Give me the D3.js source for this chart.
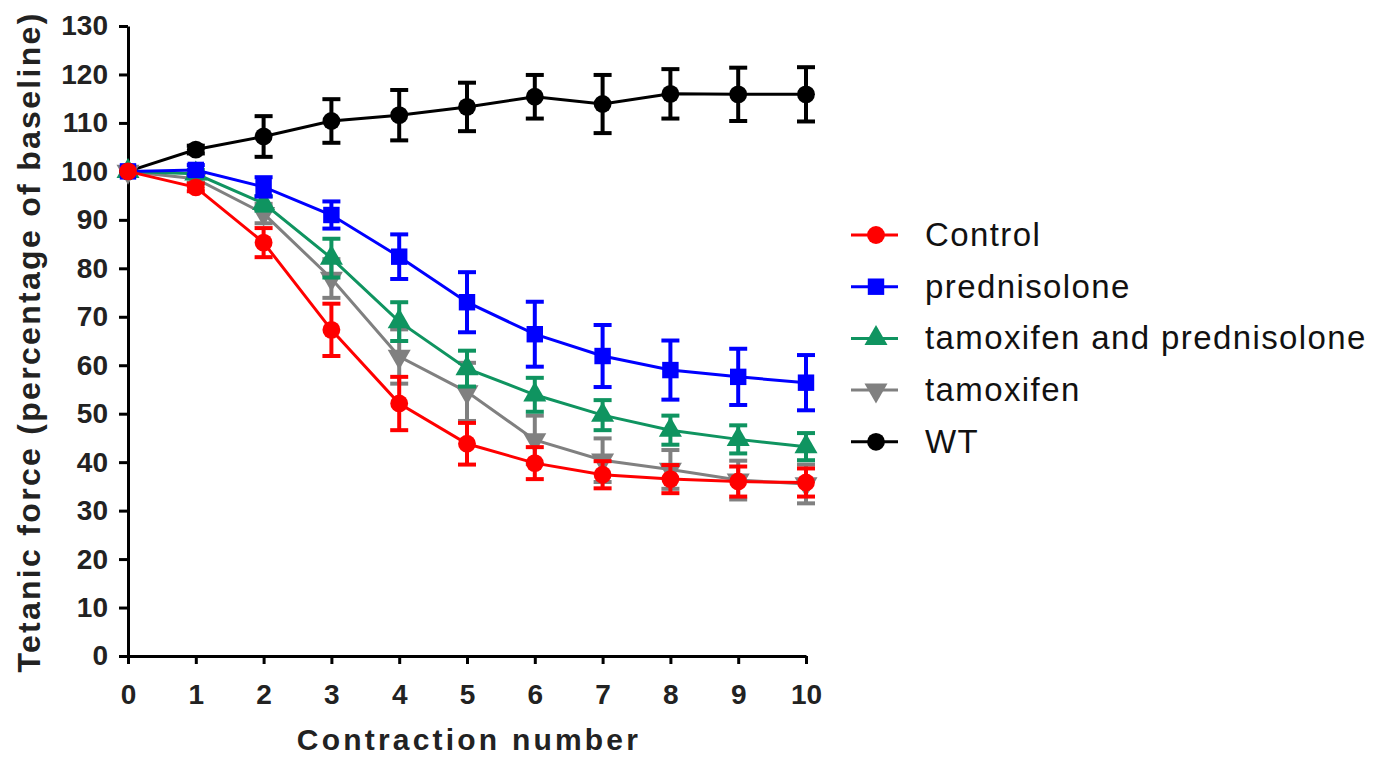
<!DOCTYPE html>
<html>
<head>
<meta charset="utf-8">
<script src="https://cdn.jsdelivr.net/npm/d3@7"></script>
<style>
  body { margin: 0; background: #fff; }
  svg { display: block; }
</style>
</head>
<body>
<svg id="chart" width="1377" height="758"></svg>
<script>
// contraction numbers 0..10
var contractions = [0, 1, 2, 3, 4, 5, 6, 7, 8, 9, 10];

// mean values (percentage of baseline) and error (SEM)
var controlMean = [100, 96.7, 85.3, 67.3, 52.1, 43.8, 39.8, 37.4, 36.5, 36.0, 35.8];
var controlErr  = [0, 0.8, 3.0, 5.4, 5.5, 4.3, 3.3, 2.8, 2.9, 3.1, 2.9];

var prednisoloneMean = [100, 100.3, 96.8, 91.0, 82.4, 73.0, 66.4, 61.9, 59.0, 57.6, 56.4];
var prednisoloneErr  = [0, 1.0, 2.0, 2.8, 4.6, 6.2, 6.7, 6.4, 6.1, 5.8, 5.7];

var tamPredMean = [100, 99.5, 93.4, 82.1, 69.0, 59.3, 53.9, 49.7, 46.6, 44.7, 43.2];
var tamPredErr  = [0, 0.8, 1.5, 4.0, 4.0, 3.7, 3.5, 3.1, 3.0, 2.9, 2.8];

var tamoxifenMean = [100, 98.5, 91.3, 77.9, 61.8, 54.5, 44.6, 40.4, 38.5, 36.3, 35.5];
var tamoxifenErr  = [0, 0.8, 2.0, 4.0, 5.6, 6.0, 5.0, 4.5, 4.0, 4.0, 4.0];

var wtMean = [100, 104.5, 107.2, 110.4, 111.6, 113.3, 115.4, 113.9, 116.0, 115.9, 115.9];
var wtErr  = [0, 0.8, 4.2, 4.5, 5.2, 5.0, 4.5, 6.0, 5.1, 5.5, 5.6];

var seriesNames = ["Control", "prednisolone", "tamoxifen and prednisolone", "tamoxifen", "WT"];
var seriesColors = ["#ff0000", "#0000ff", "#0f9460", "#808080", "#000000"];
var seriesSymbols = ["circle", "square", "triangleUp", "triangleDown", "circle"];

var yTicks = d3.range(0, 131, 10);

var allMeans = [controlMean, prednisoloneMean, tamPredMean, tamoxifenMean, wtMean];
var allErrs = [controlErr, prednisoloneErr, tamPredErr, tamoxifenErr, wtErr];

var series = seriesNames.map(function(name, i) {
  return {
    name: name, color: seriesColors[i], symbol: seriesSymbols[i],
    values: contractions.map(function(c, j) { return {x: c, y: allMeans[i][j], e: allErrs[i][j]}; })
  };
});

var margin = {top: 26, left: 128},
    width = 678, height = 630;

var svg = d3.select("#chart");
var g = svg.append("g").attr("transform", "translate(" + margin.left + "," + margin.top + ")");

var xScale = d3.scaleLinear().domain([0, 10]).range([0, width]);
var yScale = d3.scaleLinear().domain([0, 130]).range([height, 0]);

var font = "'Liberation Sans', Arial, sans-serif";

// y axis
var yAxis = g.append("g")
  .call(d3.axisLeft(yScale).tickValues(yTicks).tickSize(9).tickSizeOuter(0).tickPadding(11));
// x axis
var xAxis = g.append("g")
  .attr("transform", "translate(0," + height + ")")
  .call(d3.axisBottom(xScale).tickValues(contractions).tickSize(8).tickSizeOuter(0).tickPadding(20));

[yAxis, xAxis].forEach(function(ax) {
  ax.select(".domain").attr("stroke", "#000").attr("stroke-width", 3);
  ax.selectAll(".tick line").attr("stroke", "#000").attr("stroke-width", 3);
  ax.selectAll(".tick text")
    .attr("fill", "#222")
    .style("font-family", font)
    .style("font-weight", "bold")
    .style("font-size", "28px");
});

// symbol generator
function symbolPath(type, size) {
  var t = {circle: d3.symbolCircle, square: d3.symbolSquare,
           triangleUp: d3.symbolTriangle, triangleDown: d3.symbolTriangle}[type];
  return d3.symbol().type(t).size(size)();
}
var symbolSizes = {circle: 250, square: 270, triangleUp: 230, triangleDown: 230};

var line = d3.line()
  .x(function(d) { return xScale(d.x); })
  .y(function(d) { return yScale(d.y); });

// draw order: WT first, control on top
var drawOrder = series.slice().reverse();

drawOrder.forEach(function(s) {
  var sg = g.append("g");
  sg.append("path")
    .datum(s.values)
    .attr("d", line)
    .attr("fill", "none")
    .attr("stroke", s.color)
    .attr("stroke-width", 3);

  var bars = sg.selectAll(".err").data(s.values.filter(function(d) { return d.e > 0; }))
    .enter().append("g");
  bars.append("line")
    .attr("x1", function(d) { return xScale(d.x); })
    .attr("x2", function(d) { return xScale(d.x); })
    .attr("y1", function(d) { return yScale(d.y + d.e); })
    .attr("y2", function(d) { return yScale(d.y - d.e); })
    .attr("stroke", s.color).attr("stroke-width", 4);
  [1, -1].forEach(function(sign) {
    bars.append("line")
      .attr("x1", function(d) { return xScale(d.x) - 9; })
      .attr("x2", function(d) { return xScale(d.x) + 9; })
      .attr("y1", function(d) { return yScale(d.y + sign * d.e); })
      .attr("y2", function(d) { return yScale(d.y + sign * d.e); })
      .attr("stroke", s.color).attr("stroke-width", 4);
  });

  sg.selectAll(".pt").data(s.values).enter().append("path")
    .attr("d", symbolPath(s.symbol, symbolSizes[s.symbol]))
    .attr("transform", function(d) {
      return "translate(" + xScale(d.x) + "," + yScale(d.y) + ")" + (s.symbol === "triangleDown" ? " rotate(180)" : "");
    })
    .attr("fill", s.color);
});

// axis titles
svg.append("text")
  .attr("transform", "translate(40,342) rotate(-90)")
  .attr("text-anchor", "middle")
  .style("font-family", font)
  .style("font-weight", "bold")
  .style("font-size", "32px")
  .style("letter-spacing", "2.3px")
  .attr("fill", "#222")
  .text("Tetanic force (percentage of baseline)");

svg.append("text")
  .attr("x", 469)
  .attr("y", 750)
  .attr("text-anchor", "middle")
  .style("font-family", font)
  .style("font-weight", "bold")
  .style("font-size", "30px")
  .style("letter-spacing", "3.2px")
  .attr("fill", "#222")
  .text("Contraction number");

// legend
var legend = svg.append("g").attr("transform", "translate(851,235)");
var rows = legend.selectAll(".row").data(series).enter().append("g")
  .attr("transform", function(d, i) { return "translate(0," + (i * 51.7) + ")"; });
rows.append("line")
  .attr("x1", 0).attr("x2", 47).attr("y1", 0).attr("y2", 0)
  .attr("stroke", function(d) { return d.color; }).attr("stroke-width", 3);
rows.append("path")
  .attr("d", function(d) { return symbolPath(d.symbol, symbolSizes[d.symbol]); })
  .attr("transform", function(d) { return "translate(25,0)" + (d.symbol === "triangleDown" ? " rotate(180)" : ""); })
  .attr("fill", function(d) { return d.color; });
rows.append("text")
  .attr("x", 74)
  .attr("y", 11)
  .style("font-family", font)
  .style("font-size", "33px")
  .style("letter-spacing", "1.4px")
  .attr("fill", "#111")
  .text(function(d) { return d.name; });
</script>
</body>
</html>
